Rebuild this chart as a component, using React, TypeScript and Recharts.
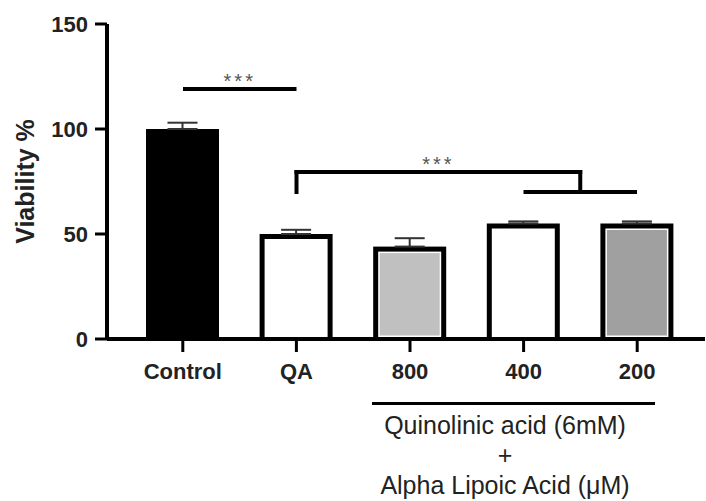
import { BarChart, Bar, XAxis, YAxis, ErrorBar, Cell, ReferenceLine } from 'recharts'

const groups = ['Control', 'QA', '800', '400', '200']
const viability = [100, 50, 44, 55, 55]
const sem = [3, 2, 4, 1, 1]
const yTicks = [0, 50, 100, 150]

// significance marks, in group index / viability units
const sigPair = { from: 0, to: 1, y: 119 }
const sigBracket = { left: 1, joint: 3.5, top: 79.5, foot: 70, right: [3, 4] }

const fills = ['#000000', '#ffffff', '#c0c0c0', '#ffffff', '#a0a0a0']

const data = groups.map((group, i) => ({
  group,
  viability: viability[i],
  err: [0, sem[i]],
}))

function OutlinedBar(props: any) {
  const { x, y, width, height, fill } = props
  const b = 5
  if (fill === '#000000') return <rect x={x} y={y} width={width} height={height} fill="#000" />
  const tinted = fill !== '#ffffff'
  return (
    <g>
      <rect x={x} y={y} width={width} height={height} fill="#000" />
      <rect x={x + b} y={y + b} width={width - 2 * b} height={Math.max(0, height - b - 2)} fill="#fff" />
      {tinted && (
        <rect
          x={x + b + 1.5}
          y={y + b + 1.5}
          width={width - 2 * b - 3}
          height={Math.max(0, height - b - 5)}
          fill={fill}
        />
      )}
    </g>
  )
}

const line = { stroke: '#000', strokeWidth: 4 }
const stars = { value: '***', position: 'top' as const, offset: 1, fill: '#555', fontSize: 20, letterSpacing: 3 }

export default function App() {
  return (
    <div style={{ position: 'absolute', left: 0, top: 0, width: 706, height: 501, background: '#fff', fontFamily: '"Liberation Sans", Arial, sans-serif' }}>
      <BarChart width={706} height={501} data={data} margin={{ top: 24, right: 1, left: 0, bottom: 122 }}>
        <XAxis
          dataKey="group"
          interval={0}
          height={40}
          padding={{ left: 19, right: 11 }}
          tick={{ fontSize: 22, fontWeight: 'bold', fill: '#222' }}
          tickSize={13}
          tickMargin={11}
          axisLine={{ stroke: '#000', strokeWidth: 4 }}
          tickLine={{ stroke: '#000', strokeWidth: 3 }}
        />
        <XAxis xAxisId="n" type="number" domain={[0, 4]} allowDataOverflow hide padding={{ left: 76, right: 68 }} />
        <YAxis
          width={107}
          domain={[0, 150]}
          ticks={yTicks}
          interval={0}
          tick={{ fontSize: 22, fontWeight: 'bold', fill: '#222' }}
          tickSize={12}
          tickMargin={7}
          axisLine={{ stroke: '#000', strokeWidth: 4 }}
          tickLine={{ stroke: '#000', strokeWidth: 3 }}
          label={{ value: 'Viability %', angle: -90, position: 'insideLeft', offset: 25, style: { textAnchor: 'middle', fontSize: 25, fontWeight: 'bold', fill: '#222' } }}
        />
        <Bar dataKey="viability" barSize={73} shape={<OutlinedBar />} isAnimationActive={false}>
          {data.map((d, i) => (
            <Cell key={d.group} fill={fills[i]} />
          ))}
          <ErrorBar dataKey="err" width={15} stroke="#333" strokeWidth={2} />
        </Bar>
        <ReferenceLine xAxisId="n" {...line} segment={[{ x: sigPair.from, y: sigPair.y }, { x: sigPair.to, y: sigPair.y }]} label={stars} />
        <ReferenceLine xAxisId="n" {...line} strokeLinecap="square" segment={[{ x: sigBracket.left, y: sigBracket.foot }, { x: sigBracket.left, y: sigBracket.top }]} />
        <ReferenceLine xAxisId="n" {...line} strokeLinecap="square" segment={[{ x: sigBracket.left, y: sigBracket.top }, { x: sigBracket.joint, y: sigBracket.top }]} label={stars} />
        <ReferenceLine xAxisId="n" {...line} strokeLinecap="square" segment={[{ x: sigBracket.joint, y: sigBracket.top }, { x: sigBracket.joint, y: sigBracket.foot }]} />
        <ReferenceLine xAxisId="n" {...line} segment={[{ x: sigBracket.right[0], y: sigBracket.foot }, { x: sigBracket.right[1], y: sigBracket.foot }]} />
      </BarChart>
      <div style={{ position: 'absolute', left: 372, top: 402, width: 283, height: 3, background: '#000' }} />
      <div style={{ position: 'absolute', left: 355, top: 410, width: 300, textAlign: 'center', fontSize: 25, lineHeight: '30px', color: '#222' }}>
        <div>Quinolinic acid (6mM)</div>
        <div>+</div>
        <div>Alpha Lipoic Acid (μM)</div>
      </div>
    </div>
  )
}
